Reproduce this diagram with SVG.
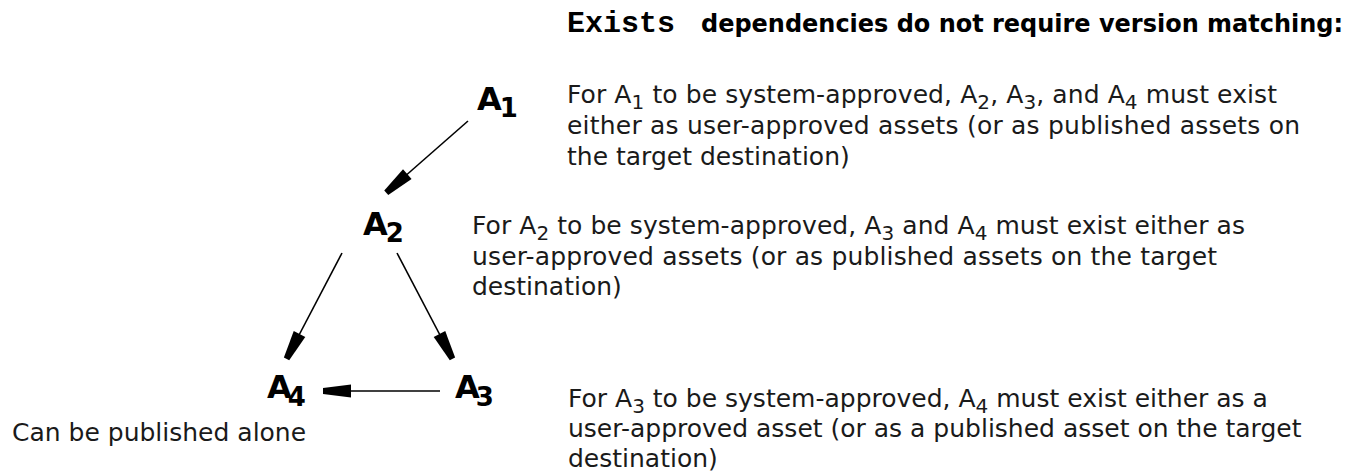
<svg xmlns="http://www.w3.org/2000/svg" width="1363" height="476" viewBox="0 0 1363 476">
<style>
.title{font-family:"DejaVu Sans",Verdana,sans-serif;font-weight:bold;font-size:24px;fill:#000}
.mono{font-family:"Liberation Mono","DejaVu Sans Mono",monospace;font-weight:bold;font-size:30px;fill:#000}
.body{font-family:"DejaVu Sans",Verdana,sans-serif;font-size:25px;fill:#1a1a1a}
.node{font-family:"DejaVu Sans",Verdana,sans-serif;font-weight:bold;font-size:32px;fill:#000}
.sub{font-size:20px}
.nsub{font-size:26px}
.edge{stroke:#000;stroke-width:1.6;fill:none;marker-end:url(#arr)}
</style>
<defs>
<marker id="arr" markerUnits="userSpaceOnUse" viewBox="-29 -8 31 16" refX="0" refY="0" markerWidth="31" markerHeight="16" orient="auto">
<path d="M1,-3 L1,3 L-27,6.5 L-27,-6.5 Z" fill="#000"/>
</marker>
</defs>
<g id="title">
<text class="mono" x="567" y="32">Exists</text>
<text class="title" x="701" y="32" textLength="642" lengthAdjust="spacingAndGlyphs">dependencies do not require version matching:</text>
</g>
<g id="connectors">
<line class="edge" x1="468" y1="121" x2="387" y2="192"/>
<line class="edge" x1="342" y1="253" x2="287" y2="358"/>
<line class="edge" x1="397" y1="253" x2="452" y2="358"/>
<line class="edge" x1="440" y1="391" x2="324" y2="391"/>
</g>
<g id="A1">
<text class="node" x="477" y="110">A<tspan class="nsub" dx="-2" dy="7">1</tspan></text>
</g>
<g id="A2">
<text class="node" x="363" y="235">A<tspan class="nsub" dx="-2" dy="7">2</tspan></text>
</g>
<g id="A4">
<text class="node" x="267" y="398">A<tspan class="nsub" dx="-4" dy="8">4</tspan></text>
</g>
<g id="A3">
<text class="node" x="455" y="398">A<tspan class="nsub" dx="-4" dy="8">3</tspan></text>
</g>
<g id="note-A4">
<text class="body" x="12" y="441">Can be published alone</text>
</g>
<g id="note-A1">
<text class="body" x="567" y="103" textLength="710">For A<tspan class="sub" dy="6">1</tspan><tspan dy="-6"> to be system-approved, A</tspan><tspan class="sub" dy="6">2</tspan><tspan dy="-6">, A</tspan><tspan class="sub" dy="6">3</tspan><tspan dy="-6">, and A</tspan><tspan class="sub" dy="6">4</tspan><tspan dy="-6"> must exist</tspan></text>
<text class="body" x="567" y="134" textLength="733">either as user-approved assets (or as published assets on</text>
<text class="body" x="567" y="165">the target destination)</text>
</g>
<g id="note-A2">
<text class="body" x="472" y="234" textLength="773">For A<tspan class="sub" dy="6">2</tspan><tspan dy="-6"> to be system-approved, A</tspan><tspan class="sub" dy="6">3</tspan><tspan dy="-6"> and A</tspan><tspan class="sub" dy="6">4</tspan><tspan dy="-6"> must exist either as</tspan></text>
<text class="body" x="472" y="265" textLength="745">user-approved assets (or as published assets on the target</text>
<text class="body" x="472" y="295">destination)</text>
</g>
<g id="note-A3">
<text class="body" x="568" y="407">For A<tspan class="sub" dy="6">3</tspan><tspan dy="-6"> to be system-approved, A</tspan><tspan class="sub" dy="6">4</tspan><tspan dy="-6"> must exist either as a</tspan></text>
<text class="body" x="568" y="437">user-approved asset (or as a published asset on the target</text>
<text class="body" x="568" y="467">destination)</text>
</g>
</svg>
